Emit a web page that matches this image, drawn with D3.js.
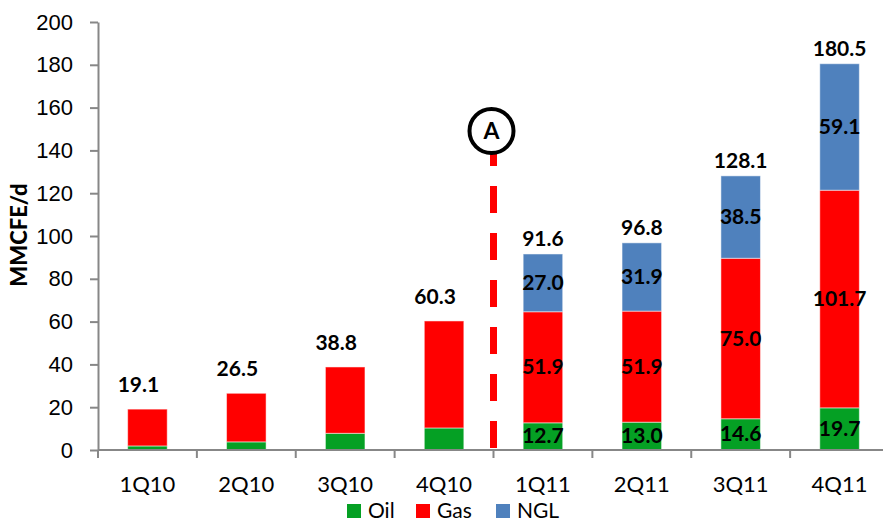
<!DOCTYPE html>
<html>
<head>
<meta charset="utf-8">
<script src="https://cdn.jsdelivr.net/npm/d3@7"></script>
<style>
	body { margin: 0; background: #fff; }
	svg { display: block; font-family: Lato, 'Open Sans', sans-serif; }
</style>
</head>
<body>
<svg id="chart" width="883" height="524"></svg>
<script>
// quarterly production, MMCFE/d
var quarters = ['1Q10', '2Q10', '3Q10', '4Q10', '1Q11', '2Q11', '3Q11', '4Q11'];
var oil = [1.9, 3.8, 7.8, 10.3, 12.7, 13.0, 14.6, 19.7];
var gas = [17.2, 22.7, 31.0, 50.0, 51.9, 51.9, 75.0, 101.7];
var ngl = [0, 0, 0, 0, 27.0, 31.9, 38.5, 59.1];
var totals = [19.1, 26.5, 38.8, 60.3, 91.6, 96.8, 128.1, 180.5];
var yTicks = [0, 20, 40, 60, 80, 100, 120, 140, 160, 180, 200];

var series = ['Oil', 'Gas', 'NGL'];
var colors = ['#05a024', '#ff0000', '#4f81bd'];

var svg = d3.select('svg#chart');

var x = d3.scaleBand().domain(quarters).range([98, 889]).paddingInner(0.6).paddingOuter(0.3);
var y = d3.scaleLinear().domain([0, 200]).range([450, 22]);
var color = d3.scaleOrdinal().domain(series).range(colors);

var rows = quarters.map(function (q, i) {
	return { q: q, Oil: oil[i], Gas: gas[i], NGL: ngl[i], total: totals[i] };
});
var stacked = d3.stack().keys(series)(rows);

// y axis
var yAxis = d3.axisLeft(y).tickValues(yTicks).tickSize(8).tickPadding(17).tickSizeOuter(0);
var gy = svg.append('g')
	.attr('transform', 'translate(' + 98 + ',0)')
	.call(yAxis);
gy.select('.domain').attr('stroke', '#878787').attr('stroke-width', 2);
gy.selectAll('.tick line').attr('stroke', '#878787').attr('stroke-width', 2);
gy.selectAll('.tick text').style('font-size', '22px').attr('fill', '#000');

svg.append('text')
	.attr('transform', 'translate(27,235) rotate(-90)')
	.style('text-anchor', 'middle')
	.style('font-size', '22px')
	.style('font-weight', '900')
	.text('MMCFE/d');

// bars
var layers = svg.selectAll('g.layer')
	.data(stacked)
	.enter()
	.append('g')
	.attr('class', 'layer')
	.style('fill', function (d) { return color(d.key); });

layers.selectAll('rect')
	.data(function (d) { return d; })
	.enter()
	.filter(function (d) { return d[1] - d[0] > 0; })
	.append('rect')
	.attr('x', function (d) { return x(d.data.q); })
	.attr('width', x.bandwidth())
	.attr('y', function (d) { return y(d[1]); })
	.attr('height', function (d) { return y(d[0]) - y(d[1]); })
	.style('stroke', 'rgba(255,255,255,0.5)')
	.style('stroke-width', 1);

// x axis
var step = x.step();
var x0 = x.range()[0];
svg.append('line')
	.attr('x1', x0).attr('x2', x.range()[1])
	.attr('y1', y(0)).attr('y2', y(0))
	.style('stroke', '#878787').style('stroke-width', 2);

svg.selectAll('line.xtick')
	.data(d3.range(quarters.length + 1))
	.enter()
	.append('line')
	.attr('class', 'xtick')
	.attr('x1', function (i) { return x0 + i * step; })
	.attr('x2', function (i) { return x0 + i * step; })
	.attr('y1', y(0)).attr('y2', y(0) + 8)
	.style('stroke', '#878787').style('stroke-width', 2);

svg.selectAll('text.xlabel')
	.data(quarters)
	.enter()
	.append('text')
	.attr('class', 'xlabel')
	.attr('x', function (d) { return x(d) + x.bandwidth() / 2; })
	.attr('y', 492)
	.style('text-anchor', 'middle')
	.style('font-size', '22px')
	.text(function (d) { return d; });

// segment labels (2011 only)
layers.selectAll('text')
	.data(function (d) { return d.filter(function (s) { return s.data.NGL > 0; }); })
	.enter()
	.append('text')
	.attr('x', function (d) { return x(d.data.q) + x.bandwidth() / 2; })
	.attr('y', function (d) { return (y(d[0]) + y(d[1])) / 2 + 7; })
	.style('text-anchor', 'middle')
	.style('font-size', '21px')
	.style('font-weight', 'bold')
	.style('fill', '#000')
	.text(function (d) { return (d[1] - d[0]).toFixed(1); });

// totals
svg.selectAll('text.total')
	.data(rows)
	.enter()
	.append('text')
	.attr('class', 'total')
	.attr('x', function (d) {
		return x(d.q) + x.bandwidth() / 2 - (d.NGL > 0 ? 0 : 9);
	})
	.attr('y', function (d) {
		return y(d.total) - (d.NGL > 0 ? 8 : 17);
	})
	.style('text-anchor', 'middle')
	.style('font-size', '21px')
	.style('font-weight', 'bold')
	.text(function (d) { return d.total.toFixed(1); });

// marker A between 2010 and 2011
var split = x0 + 4 * step;
svg.append('line')
	.attr('x1', split).attr('x2', split)
	.attr('y1', 448).attr('y2', 140)
	.style('stroke', '#ff0000')
	.style('stroke-width', 7)
	.style('stroke-dasharray', '27,20');

svg.append('circle')
	.attr('cx', split - 2).attr('cy', 131)
	.attr('r', 22)
	.style('fill', '#fff')
	.style('stroke', '#000')
	.style('stroke-width', 4);

svg.append('text')
	.attr('x', split - 2).attr('y', 139)
	.style('text-anchor', 'middle')
	.style('font-size', '23px')
	.style('font-weight', 'bold')
	.text('A');

// legend
var legendX = [347, 416, 496];
var legend = svg.selectAll('g.legend')
	.data(series)
	.enter()
	.append('g')
	.attr('class', 'legend')
	.attr('transform', function (d, i) { return 'translate(' + legendX[i] + ',504)'; });

legend.append('rect')
	.attr('width', 14).attr('height', 14)
	.style('fill', function (d) { return color(d); });

legend.append('text')
	.attr('x', 21).attr('y', 14)
	.style('font-size', '21px')
	.text(function (d) { return d; });
</script>
</body>
</html>
